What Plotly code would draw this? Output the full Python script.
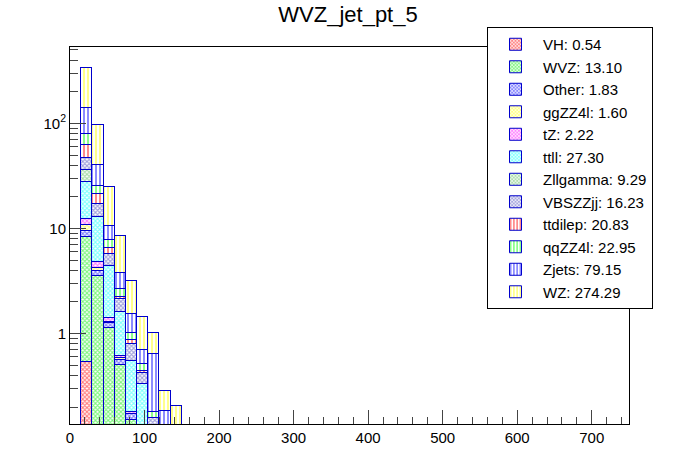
import plotly.graph_objects as go

# jet pt bins (GeV), 15 GeV wide, only the filled ones
bin_low = [15, 30, 45, 60, 75, 90, 105, 120, 135]
bin_width = 15

VH = [0.54, 0, 0, 0, 0, 0, 0, 0, 0]
WVZ = [7.85, 3.57, 1.12, 0.50, 0.15, 0, 0, 0, 0]
Other = [1.10, 0.38, 0.14, 0.06, 0.02, 0, 0, 0, 0]
ggZZ4l = [1.30, 0.25, 0.03, 0.02, 0, 0, 0, 0, 0]
tZ = [1.50, 0.65, 0.13, 0.03, 0.01, 0, 0, 0, 0]
ttll = [15.4, 8.15, 3.0, 1.01, 0.37, 0.33, 0, 0, 0]
Zllgamma = [8.0, 0, 0, 0, 0, 0, 0, 0, 0]
VBSZZjj = [11.1, 4.1, 1.3, 0.51, 0.24, 0.09, 0.156, 0, 0]
ttdilep = [15.5, 4.2, 0.86, 0.12, 0.085, 0.024, 0, 0, 0]
qqZZ4l = [16.2, 4.2, 1.2, 0.40, 0.135, 0.07, 0.022, 0, 0]
Zjets = [61.5, 15.0, 2.7, 1.11, 0.54, 0.19, 0.46, 0.184, 0]
WZ = [197.0, 56.7, 14.3, 4.71, 1.64, 0.73, 0.37, 0.10, 0.205]

names = ["VH", "WVZ", "Other", "ggZZ4l", "tZ", "ttll", "Zllgamma",
         "VBSZZjj", "ttdilep", "qqZZ4l", "Zjets", "WZ"]
totals = ["0.54", "13.10", "1.83", "1.60", "2.22", "27.30", "9.29",
          "16.23", "20.83", "22.95", "79.15", "274.29"]
series = [VH, WVZ, Other, ggZZ4l, tZ, ttll, Zllgamma,
          VBSZZjj, ttdilep, qqZZ4l, Zjets, WZ]
colors = ["#ff0000", "#00ee00", "#0000ff", "#ffff00", "#ff00ff", "#00ffff",
          "#55bb55", "#4444bb", "#ff0000", "#00ff00", "#0000ff", "#ffff00"]
shapes = ["x"] * 8 + ["|"] * 4

fig = go.Figure()
for name, tot, vals, col, shp in zip(names, totals, series, colors, shapes):
    if shp == "x":
        pat = dict(shape="x", fgcolor=col, bgcolor="white", size=3, solidity=0.6)
    else:
        pat = dict(shape="|", fgcolor=col, bgcolor="white", size=4, solidity=0.45)
    fig.add_trace(go.Bar(
        x=bin_low, y=vals, width=bin_width, offset=0,
        name=name + ": " + tot,
        marker=dict(color="white", pattern=pat,
                    line=dict(color="#0000cc", width=1)),
    ))

fig.update_layout(
    width=696, height=472,
    barmode="stack", bargap=0,
    plot_bgcolor="white", paper_bgcolor="white",
    margin=dict(l=70, r=67, t=47, b=48),
    font=dict(family="Liberation Sans, Arial, sans-serif", size=15, color="black"),
    title=dict(text="WVZ_jet_pt_5", x=0.5, xanchor="center",
               y=0.97, yanchor="middle", yref="container",
               font=dict(size=22)),
    legend=dict(x=0.746, y=1.053, xanchor="left", yanchor="top",
                traceorder="normal", bgcolor="white", bordercolor="black",
                borderwidth=1, font=dict(size=15), tracegroupgap=0,
                itemwidth=45, maxheight=400),
)
fig.update_xaxes(range=[0, 750], showline=True, linecolor="black", mirror=True,
                 ticks="inside", ticklen=14, tickvals=list(range(0, 800, 100)),
                 minor=dict(ticks="inside", ticklen=7, dtick=20),
                 showgrid=False, zeroline=False)
fig.update_yaxes(type="log", range=[-0.86, 2.727], showline=True, linecolor="black",
                 mirror=True, ticks="inside", ticklen=16,
                 tickvals=[1, 10, 100], ticktext=["1", "10", "10<sup>2</sup>"],
                 minor=dict(ticks="inside", ticklen=8,
                            tickvals=[0.2, 0.3, 0.4, 0.5, 0.6, 0.7, 0.8, 0.9,
                                      2, 3, 4, 5, 6, 7, 8, 9,
                                      20, 30, 40, 50, 60, 70, 80, 90,
                                      200, 300, 400, 500]),
                 showgrid=False, zeroline=False)

# page has a default 8px body margin; drop it so the figure sits at 0,0
fig.write_html("out.html", config={"displayModeBar": False},
               post_script="document.body.style.margin='0px';")
